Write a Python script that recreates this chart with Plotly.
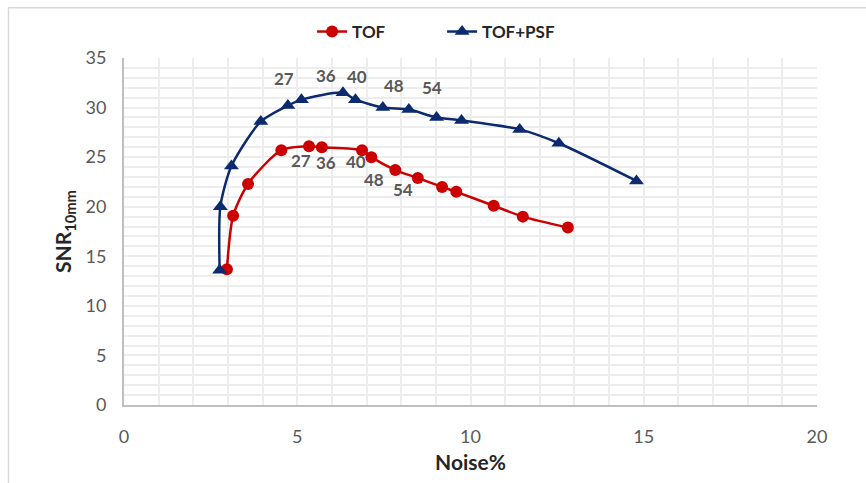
import plotly.graph_objects as go

# ---- data ----
tof_noise = [2.97, 3.15, 3.58, 4.54, 5.34, 5.71, 6.87, 7.14, 7.83, 8.48, 9.18, 9.59, 10.67, 11.51, 12.81]
tof_snr = [13.7, 19.1, 22.3, 25.7, 26.1, 26.0, 25.7, 25.0, 23.7, 22.9, 22.0, 21.5, 20.1, 19.0, 17.9]

psf_noise = [2.76, 2.78, 3.10, 3.95, 4.73, 5.12, 6.32, 6.68, 7.47, 8.22, 9.02, 9.74, 11.42, 12.55, 14.79]
psf_snr = [13.6, 20.0, 24.1, 28.6, 30.2, 30.8, 31.5, 30.8, 30.0, 29.8, 29.0, 28.7, 27.8, 26.4, 22.6]

label_texts = ["27", "36", "40", "48", "54"]
tof_label_idx = [4, 5, 6, 7, 8]
psf_label_idx = [4, 6, 7, 8, 10]

x_ticks = [0, 5, 10, 15, 20]
y_ticks = [0, 5, 10, 15, 20, 25, 30, 35]

# ---- styles ----
RED = "#CC0000"
BLUE = "#0B2A6F"
FONT = "Lato, 'Open Sans', sans-serif"
tof_label_shift = [(-8, -14), (4, -15), (-6, -11), (3, -22), (8, -19)]
psf_label_shift = [(-4, 27), (-17, 17), (2, 23), (11, 22), (-5, 30)]

fig = go.Figure()
fig.add_trace(go.Scatter(
    x=tof_noise, y=tof_snr, name="TOF", mode="lines+markers",
    line=dict(color=RED, width=2.5, shape="spline", smoothing=0.7),
    marker=dict(symbol="circle", size=12, color=RED),
))
fig.add_trace(go.Scatter(
    x=psf_noise, y=psf_snr, name="TOF+PSF", mode="lines+markers",
    line=dict(color=BLUE, width=2.5, shape="spline", smoothing=0.7),
    marker=dict(symbol="triangle-up", size=13, color=BLUE),
))

annotations = []
for txt, i, (dx, dy) in zip(label_texts, tof_label_idx, tof_label_shift):
    annotations.append(dict(x=tof_noise[i], y=tof_snr[i], text="<b>%s</b>" % txt, showarrow=False,
                            xshift=dx, yshift=dy, font=dict(family=FONT, size=17, color="#595959")))
for txt, i, (dx, dy) in zip(label_texts, psf_label_idx, psf_label_shift):
    annotations.append(dict(x=psf_noise[i], y=psf_snr[i], text="<b>%s</b>" % txt, showarrow=False,
                            xshift=dx, yshift=dy, font=dict(family=FONT, size=17, color="#595959")))

grid_col = "#EDEDED"
fig.update_layout(
    width=866, height=483,
    margin=dict(l=124, r=49, t=58, b=76),
    paper_bgcolor="white", plot_bgcolor="white",
    font=dict(family=FONT, color="#595959"),
    showlegend=True,
    legend=dict(orientation="h", x=0.459, xanchor="center", y=1.075, yanchor="middle",
                entrywidth=85, entrywidthmode="pixels",
                font=dict(family=FONT, size=17, color="#262626", weight="bold"),
                bgcolor="rgba(0,0,0,0)"),
    annotations=annotations,
    shapes=[dict(type="rect", xref="paper", yref="paper", x0=-0.1667, x1=1.3, y0=-0.4, y1=1.1447,
                 line=dict(color="#D9D9D9", width=1.5), fillcolor="rgba(0,0,0,0)", layer="below")],
)
fig.update_xaxes(
    range=[0, 20], tickvals=x_ticks, ticktext=[str(v) for v in x_ticks],
    showgrid=True, gridcolor=grid_col, gridwidth=2,
    minor=dict(dtick=1, showgrid=True, gridcolor=grid_col, gridwidth=2),
    showline=True, linecolor="#BFBFBF", linewidth=2, zeroline=False,
    ticks="", ticklabelstandoff=14,
    tickfont=dict(family=FONT, size=18, color="#595959"),
    title=dict(text="<b>Noise%</b>", font=dict(family=FONT, size=21, color="#262626"), standoff=10),
)
fig.update_yaxes(
    range=[0, 35], tickvals=y_ticks, ticktext=[str(v) for v in y_ticks],
    showgrid=True, gridcolor=grid_col, gridwidth=2,
    minor=dict(dtick=1, showgrid=True, gridcolor=grid_col, gridwidth=2),
    showline=True, linecolor="#BFBFBF", linewidth=2, zeroline=False,
    ticks="", ticklabelstandoff=12,
    tickfont=dict(family=FONT, size=18, color="#595959"),
    title=dict(text="<b>SNR<sub>10mm</sub></b>", font=dict(family=FONT, size=21, color="#262626"), standoff=8),
)

fig.write_html("out.html")
